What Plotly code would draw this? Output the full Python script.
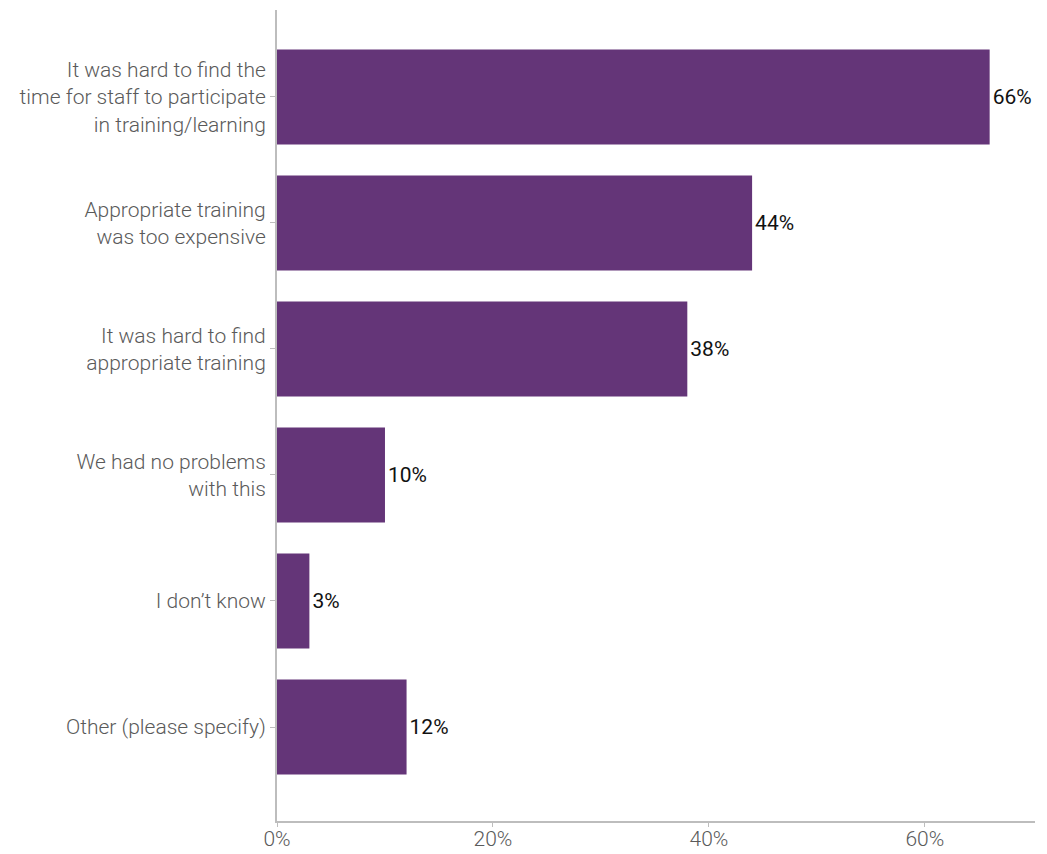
import plotly.graph_objects as go

categories = [
    "It was hard to find the<br>time for staff to participate<br>in training/learning",
    "Appropriate training<br>was too expensive",
    "It was hard to find<br>appropriate training",
    "We had no problems<br>with this",
    "I don\u2019t know",
    "Other (please specify)",
]
values = [66, 44, 38, 10, 3, 12]
x_ticks = [0, 20, 40, 60]
x_tick_labels = ["0%", "20%", "40%", "60%"]

purple = "#643578"
grey = "#5a5a5a"
axis_grey = "#bdbdbd"

fig = go.Figure(
    go.Bar(
        x=values,
        y=list(range(len(categories))),
        orientation="h",
        width=0.754,
        marker=dict(color=purple, line=dict(width=0)),
        text=[f"{v}%" for v in values],
        textposition="outside",
        textfont=dict(family="Roboto", size=21, color="#111111"),
        cliponaxis=False,
        hoverinfo="skip",
    )
)

fig.update_layout(
    width=1047,
    height=854,
    margin=dict(l=277, r=12, t=10, b=33),
    plot_bgcolor="white",
    paper_bgcolor="white",
    showlegend=False,
    uniformtext=dict(mode=False),
)

fig.update_xaxes(
    automargin=False,
    range=[0, 70.2],
    tickvals=x_ticks,
    ticktext=x_tick_labels,
    showgrid=False,
    zeroline=False,
    showline=True,
    linecolor=axis_grey,
    linewidth=2,
    ticks="outside",
    ticklen=4,
    tickcolor=axis_grey,
    ticklabelstandoff=-6,
    tickfont=dict(family="Roboto", size=21, color=grey, weight=300),
)

fig.update_yaxes(
    automargin=False,
    range=[5.746, -0.69],
    tickvals=list(range(len(categories))),
    ticktext=categories,
    showgrid=False,
    zeroline=False,
    showline=True,
    linecolor=axis_grey,
    linewidth=2,
    ticks="outside",
    ticklen=5,
    tickcolor=axis_grey,
    tickfont=dict(family="Roboto", size=21, color=grey, weight=300),
)

fig.write_html("out.html")
